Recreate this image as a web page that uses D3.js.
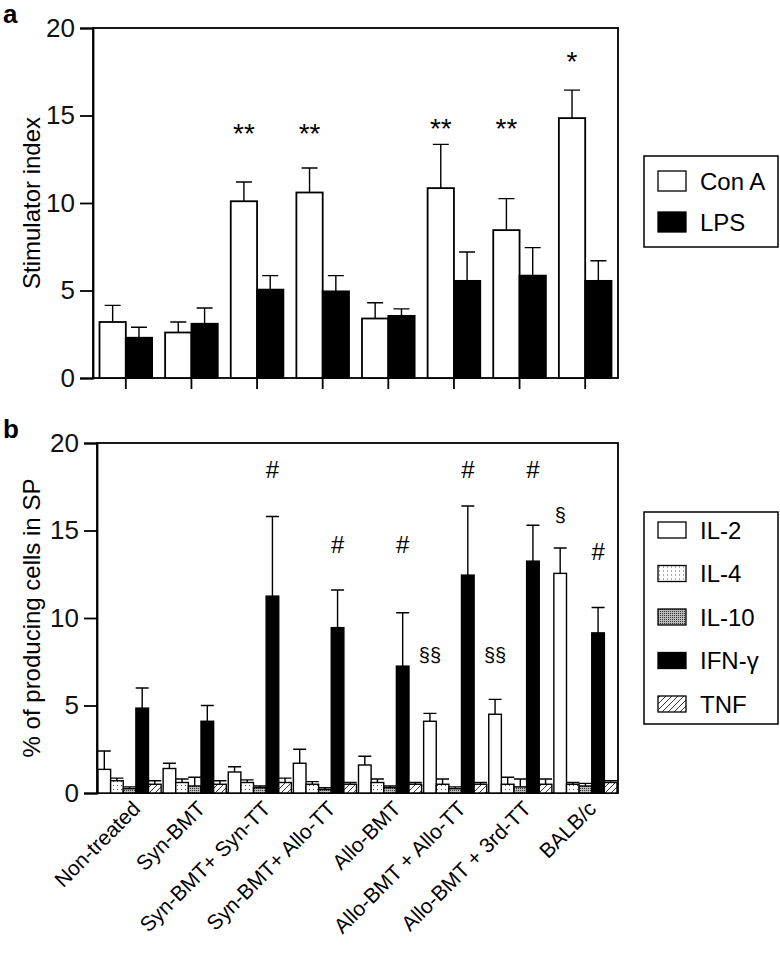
<!DOCTYPE html>
<html>
<head>
<meta charset="utf-8">
<script src="https://cdn.jsdelivr.net/npm/d3@7"></script>
<style>
  body { margin: 0; background: #fff; }
  svg { font-family: "Liberation Sans", Arial, Helvetica, sans-serif; }
</style>
</head>
<body>
<figure style="margin:0"></figure>
<script>
// panel a
const groupsA = ['g1', 'g2', 'g3', 'g4', 'g5', 'g6', 'g7', 'g8']
const seriesA = ['Con A', 'LPS']
const conA    = [3.2, 2.6, 10.1, 10.6, 3.4, 10.85, 8.45, 14.85]
const conAErr = [4.15, 3.2, 11.2, 12.0, 4.3, 13.35, 10.25, 16.45]
const lps     = [2.3, 3.1, 5.05, 4.95, 3.55, 5.55, 5.85, 5.55]
const lpsErr  = [2.9, 4.0, 5.85, 5.85, 3.95, 7.2, 7.45, 6.7]
const marksA  = [
  {g: 2, s: 0, text: '**', y: 14.0},
  {g: 3, s: 0, text: '**', y: 14.0},
  {g: 5, s: 0, text: '**', y: 14.3},
  {g: 6, s: 0, text: '**', y: 14.3},
  {g: 7, s: 0, text: '*',  y: 18.1}
]

// panel b
const groupsB = ['Non-treated', 'Syn-BMT', 'Syn-BMT+ Syn-TT', 'Syn-BMT+ Allo-TT', 'Allo-BMT',
                 'Allo-BMT + Allo-TT', 'Allo-BMT + 3rd-TT', 'BALB/c']
const seriesB = ['IL-2', 'IL-4', 'IL-10', 'IFN-\u03b3', 'TNF']
const il2     = [1.35, 1.4, 1.2, 1.7, 1.6, 4.1, 4.5, 12.55]
const il2Err  = [2.4, 1.7, 1.5, 2.5, 2.1, 4.55, 5.35, 14.0]
const il4     = [0.7, 0.6, 0.6, 0.5, 0.6, 0.5, 0.5, 0.5]
const il4Err  = [0.85, 0.8, 0.75, 0.65, 0.8, 0.8, 0.9, 0.6]
const il10    = [0.25, 0.4, 0.3, 0.2, 0.3, 0.25, 0.35, 0.4]
const il10Err = [0.35, 0.9, 0.4, 0.3, 0.4, 0.35, 0.8, 0.55]
const ifn     = [4.85, 4.1, 11.25, 9.45, 7.25, 12.45, 13.25, 9.15]
const ifnErr  = [6.0, 5.0, 15.8, 11.6, 10.3, 16.4, 15.3, 10.6]
const tnf     = [0.5, 0.5, 0.6, 0.5, 0.5, 0.5, 0.5, 0.6]
const tnfErr  = [0.7, 0.7, 0.85, 0.6, 0.6, 0.6, 0.8, 0.7]
const marksB  = [
  {g: 2, s: 3, text: '#',  y: 18.5},
  {g: 3, s: 3, text: '#',  y: 14.2},
  {g: 4, s: 3, text: '#',  y: 14.2},
  {g: 5, s: 0, text: '\u00a7\u00a7', y: 7.9},
  {g: 5, s: 3, text: '#',  y: 18.5},
  {g: 6, s: 0, text: '\u00a7\u00a7', y: 7.9},
  {g: 6, s: 3, text: '#',  y: 18.5},
  {g: 7, s: 0, text: '\u00a7', y: 15.9},
  {g: 7, s: 3, text: '#',  y: 13.8}
]

const yTicks = [0, 5, 10, 15, 20]

const figure = document.querySelector('figure')
const svg = d3.select(figure).append('svg')
    .attr('width', 780)
    .attr('height', 969)

// fill patterns
const defs = svg.append('defs')
defs.append('pattern')
    .attr('id', 'dots').attr('width', 4).attr('height', 4)
    .attr('patternUnits', 'userSpaceOnUse')
  .call(p => p.append('rect').attr('width', 4).attr('height', 4).attr('fill', '#fff'))
  .call(p => p.append('rect').attr('x', 1).attr('y', 1).attr('width', 1).attr('height', 1).attr('fill', '#555'))
defs.append('pattern')
    .attr('id', 'dense').attr('width', 2).attr('height', 2)
    .attr('patternUnits', 'userSpaceOnUse')
  .call(p => p.append('rect').attr('width', 2).attr('height', 2).attr('fill', '#bbb'))
  .call(p => p.append('rect').attr('width', 1).attr('height', 1).attr('fill', '#333'))
defs.append('pattern')
    .attr('id', 'hatch').attr('width', 6).attr('height', 6)
    .attr('patternUnits', 'userSpaceOnUse')
  .call(p => p.append('rect').attr('width', 6).attr('height', 6).attr('fill', '#fff'))
  .call(p => p.append('path').attr('d', 'M-1,7 L7,-1 M-1,1 L1,-1 M5,7 L7,5').attr('stroke', '#222').attr('stroke-width', 0.9))

const fillsA = ['#fff', '#000']
const fillsB = ['#fff', 'url(#dots)', 'url(#dense)', '#000', 'url(#hatch)']

function panel(cfg) {
  const g = svg.append('g')
  const x = d3.scaleBand().domain(d3.range(cfg.values[0].length)).range([cfg.left, cfg.right])
  const xs = d3.scaleBand().domain(d3.range(cfg.values.length))
      .range([cfg.inner, x.bandwidth() - cfg.inner])
  const y = d3.scaleLinear().domain([0, 20]).range([cfg.bottom, cfg.top])

  // frame
  g.append('rect')
      .attr('x', cfg.left).attr('y', cfg.top)
      .attr('width', cfg.right - cfg.left).attr('height', cfg.bottom - cfg.top)
      .attr('fill', 'none').attr('stroke', '#000').attr('stroke-width', 1.8)

  const yAxis = g.append('g')
      .attr('transform', 'translate(' + cfg.left + ',0)')
      .call(d3.axisLeft(y).tickValues(yTicks).tickSize(13).tickPadding(5))
  yAxis.select('.domain').attr('stroke-width', 1.8)
  yAxis.selectAll('.tick line').attr('stroke-width', 1.8)
  yAxis.selectAll('text').attr('font-size', 26).attr('fill', '#111')

  // error bars first, bars drawn over their base
  cfg.values.forEach((vals, s) => {
    const err = cfg.errors[s]
    const cx = i => x(i) + xs(s) + xs.bandwidth() / 2
    g.append('g').selectAll('path')
      .data(vals)
      .join('path')
        .attr('d', (d, i) => 'M' + cx(i) + ',' + y(d) + 'V' + y(err[i]) +
              'M' + (cx(i) - cfg.cap) + ',' + y(err[i]) + 'H' + (cx(i) + cfg.cap))
        .attr('stroke', '#000').attr('stroke-width', 1.4).attr('fill', 'none')
    g.append('g').selectAll('rect')
      .data(vals)
      .join('rect')
        .attr('x', (d, i) => x(i) + xs(s))
        .attr('y', d => y(d))
        .attr('width', xs.bandwidth())
        .attr('height', d => y(0) - y(d))
        .attr('fill', cfg.fills[s])
        .attr('stroke', '#000').attr('stroke-width', cfg.barStroke)
  })

  g.append('g').selectAll('text')
    .data(cfg.marks)
    .join('text')
      .attr('x', d => x(d.g) + xs(d.s) + xs.bandwidth() / 2)
      .attr('y', d => y(d.y))
      .attr('dy', '0.35em')
      .attr('text-anchor', 'middle')
      .attr('font-size', d => d.text[0] === '\u00a7' ? cfg.markSize - 4 : cfg.markSize)
      .text(d => d.text)

  g.append('text')
      .attr('transform', 'translate(40,' + (cfg.top + cfg.bottom) / 2 + ') rotate(-90)')
      .attr('text-anchor', 'middle')
      .attr('font-size', 24)
      .text(cfg.label)

  g.append('text')
      .attr('x', 3).attr('y', cfg.top - 5)
      .attr('font-size', 26).attr('font-weight', 'bold')
      .text(cfg.letter)

  // legend
  const lg = g.append('g')
  lg.append('rect')
      .attr('x', 644).attr('y', cfg.legTop)
      .attr('width', 134).attr('height', cfg.legH)
      .attr('fill', '#fff').attr('stroke', '#000').attr('stroke-width', 1.5)
  const item = lg.selectAll('g')
    .data(cfg.series)
    .join('g')
      .attr('transform', (d, i) => 'translate(658,' + (cfg.legTop + cfg.legPad + i * cfg.legStep) + ')')
  item.append('rect')
      .attr('y', -cfg.swH / 2).attr('width', 28).attr('height', cfg.swH)
      .attr('fill', (d, i) => cfg.fills[i])
      .attr('stroke', '#000').attr('stroke-width', 1.3)
  item.append('text')
      .attr('x', 42).attr('dy', '0.36em')
      .attr('font-size', 24)
      .text(d => d)

  return {g, x, y}
}

const pa = panel({
  left: 93, right: 618, top: 28, bottom: 378, inner: 6.5, cap: 8, barStroke: 1.8,
  values: [conA, lps], errors: [conAErr, lpsErr], fills: fillsA, series: seriesA,
  marks: marksA, markSize: 28, label: 'Stimulator index', letter: 'a',
  legTop: 156, legH: 91, legPad: 25, legStep: 41, swH: 20
})
// x ticks for panel a
pa.g.append('g').selectAll('line')
  .data(groupsA)
  .join('line')
    .attr('x1', (d, i) => pa.x(i) + pa.x.bandwidth() / 2)
    .attr('x2', (d, i) => pa.x(i) + pa.x.bandwidth() / 2)
    .attr('y1', 378).attr('y2', 389)
    .attr('stroke', '#000').attr('stroke-width', 1.8)

const pb = panel({
  left: 97, right: 618, top: 443, bottom: 793, inner: 1, cap: 6.5, barStroke: 1.4,
  values: [il2, il4, il10, ifn, tnf], errors: [il2Err, il4Err, il10Err, ifnErr, tnfErr],
  fills: fillsB, series: seriesB, marks: marksB, markSize: 24,
  label: '% of producing cells in SP', letter: 'b',
  legTop: 512, legH: 212, legPad: 18, legStep: 43.5, swH: 16
})
// rotated category labels under panel b
pb.g.append('g').selectAll('text')
  .data(groupsB)
  .join('text')
    .attr('transform', (d, i) => 'translate(' + (pb.x(i) + pb.x.bandwidth() / 2 + 12) + ',810) rotate(-45)')
    .attr('text-anchor', 'end')
    .attr('font-size', 21)
    .text(d => d)
</script>
</body>
</html>
